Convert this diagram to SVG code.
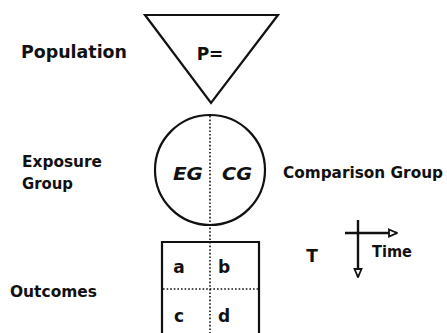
<svg xmlns="http://www.w3.org/2000/svg" width="447" height="333" viewBox="0 0 447 333">
<defs>
<style>
text{font-family:"Comic Sans MS","DejaVu Sans","Liberation Sans",sans-serif;fill:#111;font-weight:bold}
text.it{font-style:italic}
.shape{fill:none;stroke:#111;stroke-width:2.2}
.dot{fill:none;stroke:#111;stroke-width:1.6;stroke-dasharray:1.6,2}
.ax{fill:none;stroke:#111;stroke-width:2.4}
</style>
<marker id="arr" viewBox="0 0 10 10" refX="9" refY="5" markerWidth="10" markerHeight="10" markerUnits="userSpaceOnUse" orient="auto">
<path d="M1,1.5 L9,5 L1,8.5 Z" fill="#fff" stroke="#111" stroke-width="1.8"/>
</marker>
</defs>
<rect width="447" height="333" fill="#fff"/>
<g id="population">
<polygon class="shape" points="145,15 278,15 211,103"/>
<text x="210" y="60" font-size="17" text-anchor="middle">P=</text>
<text x="21" y="58" font-size="17" textLength="106" lengthAdjust="spacingAndGlyphs">Population</text>
</g>
<g id="groups">
<circle class="shape" cx="210" cy="170" r="55"/>
<text class="it" x="188" y="180" font-size="18" text-anchor="middle" textLength="30" lengthAdjust="spacingAndGlyphs">EG</text>
<text class="it" x="237" y="180" font-size="18" text-anchor="middle" textLength="30" lengthAdjust="spacingAndGlyphs">CG</text>
<text x="22" y="167" font-size="15" textLength="80" lengthAdjust="spacingAndGlyphs">Exposure</text>
<text x="22" y="189" font-size="15" textLength="51" lengthAdjust="spacingAndGlyphs">Group</text>
<text x="283" y="178" font-size="15" textLength="160" lengthAdjust="spacingAndGlyphs">Comparison Group</text>
</g>
<g id="outcomes">
<path class="shape" d="M162,334 V242 H259 V334"/>
<line class="dot" x1="163" y1="289" x2="258" y2="289"/>
<text x="179" y="273" font-size="17" text-anchor="middle">a</text>
<text x="224" y="273" font-size="17" text-anchor="middle">b</text>
<text x="179" y="322" font-size="17" text-anchor="middle">c</text>
<text x="224" y="322" font-size="17" text-anchor="middle">d</text>
<text x="10" y="297" font-size="15" textLength="87" lengthAdjust="spacingAndGlyphs">Outcomes</text>
</g>
<g id="time">
<text x="312" y="262" font-size="17" text-anchor="middle">T</text>
<line class="ax" x1="358" y1="220" x2="358" y2="277" marker-end="url(#arr)"/>
<line class="ax" x1="345" y1="233" x2="397" y2="233" marker-end="url(#arr)"/>
<text x="372" y="257" font-size="15" textLength="40" lengthAdjust="spacingAndGlyphs">Time</text>
</g>
<g id="connectors">
<line class="dot" x1="210" y1="116" x2="210" y2="333"/>
</g>
</svg>
